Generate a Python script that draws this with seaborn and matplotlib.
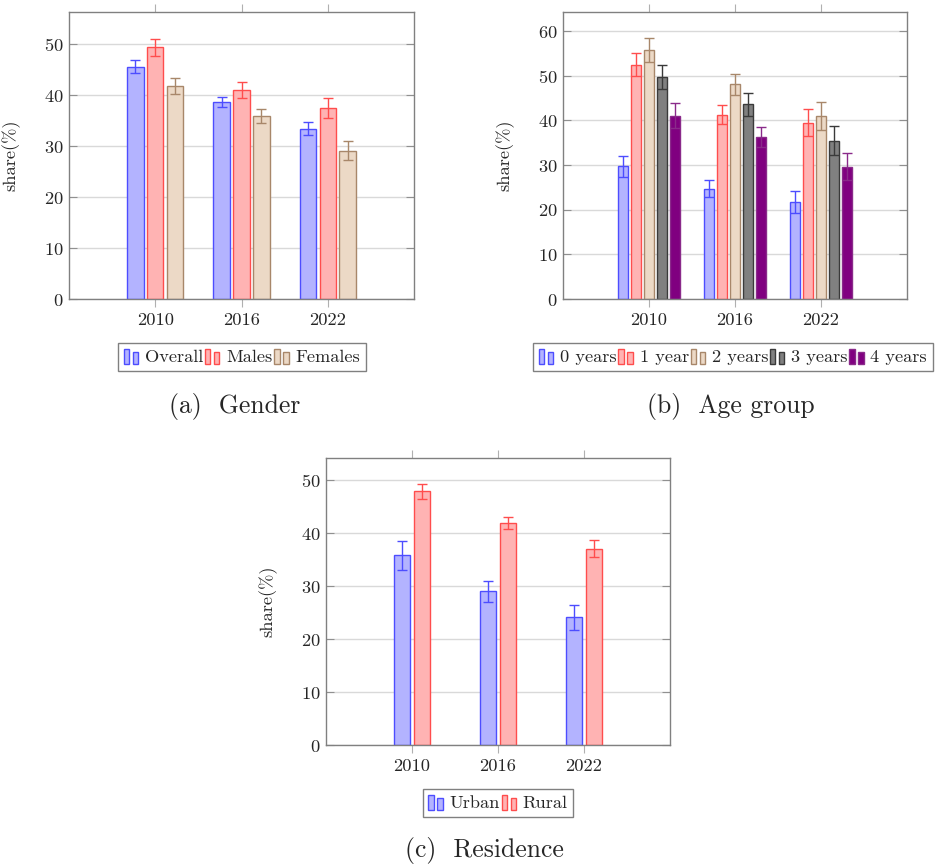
import numpy as np
import pandas as pd
import matplotlib
matplotlib.use('Agg')
import matplotlib.pyplot as plt
import seaborn as sns
from matplotlib.patches import Patch, Rectangle
from matplotlib.legend_handler import HandlerBase

sns.set_style('white')
plt.rcParams['font.family'] = ['cmr10', 'DejaVu Serif']
plt.rcParams['axes.formatter.use_mathtext'] = True
plt.rcParams['mathtext.fontset'] = 'cm'

years = ['2010', '2016', '2022']

# (a) gender
gender_groups = ['Overall', 'Males', 'Females']
gender_share = [[45.6, 38.6, 33.4], [49.4, 41.0, 37.5], [41.8, 35.9, 29.1]]
gender_err = [[1.2, 1.0, 1.3], [1.7, 1.5, 1.95], [1.65, 1.4, 1.8]]

# (b) age group
age_groups = ['0 years', '1 year', '2 years', '3 years', '4 years']
age_share = [[29.7, 24.7, 21.7], [52.5, 41.3, 39.5], [55.7, 48.1, 41.0],
             [49.7, 43.6, 35.5], [41.1, 36.3, 29.6]]
age_err = [[2.4, 1.9, 2.5], [2.6, 2.1, 3.0], [2.7, 2.4, 3.2],
           [2.7, 2.5, 3.2], [2.9, 2.3, 3.0]]

# (c) residence
res_groups = ['Urban', 'Rural']
res_share = [[35.8, 29.0, 24.1], [47.9, 41.9, 37.1]]
res_err = [[2.75, 2.0, 2.4], [1.4, 1.15, 1.65]]

# pgfplots-ish colours
fill_c = {'blue': '#b3b3ff', 'red': '#ffb3b3', 'brown': '#ecd9c6', 'gray': '#808080', 'violet': '#800080'}
edge_c = {'blue': '#4d4dff', 'red': '#ff4d4d', 'brown': '#a8876a', 'gray': '#3a3a3a', 'violet': '#8a2a8a'}


class TwoBars(HandlerBase):
    # legend entry like pgfplots ybar: two thin bars
    def create_artists(self, legend, orig, xd, yd, w, h, fontsize, trans):
        bw = w * 0.32
        arts = []
        for x0, hh in ((0.0, 1.0), (0.55, 0.78)):
            r = Rectangle((-xd + x0 * w, -yd), bw, h * hh,
                          facecolor=orig.get_facecolor(), edgecolor=orig.get_edgecolor(),
                          lw=1.0, transform=trans)
            arts.append(r)
        return arts


def draw_panel(ax, groups, share, err, keys, width, gap, ymax, yticks):
    rows = []
    for g, vals in zip(groups, share):
        for y, v in zip(years, vals):
            rows.append({'year': y, 'group': g, 'share': v})
    df = pd.DataFrame(rows)
    sns.barplot(data=df, x='year', y='share', hue='group', order=years, hue_order=groups,
                palette=[fill_c[k] for k in keys], width=width, gap=gap, saturation=1,
                errorbar=None, linewidth=1.0, legend=False, ax=ax)
    conts = list(ax.containers)
    for cont, k, er in zip(conts, keys, err):
        for b in cont:
            b.set_edgecolor(edge_c[k])
        xs = [b.get_x() + b.get_width() / 2 for b in cont]
        ys = [b.get_height() for b in cont]
        ax.errorbar(xs, ys, yerr=er, fmt='none', ecolor=edge_c[k], elinewidth=1.0,
                    capsize=3.5, capthick=1.0, zorder=5)
    ax.set_xlim(-1, 3)
    ax.set_ylim(0, ymax)
    ax.set_yticks(yticks)
    ax.set_xlabel('')
    ax.set_ylabel('share(%)', fontsize=13.3)
    ax.yaxis.set_label_coords(-0.14, 0.5)
    ax.grid(axis='y', color='#d9d9d9', linewidth=1.0)
    ax.set_axisbelow(True)
    for s in ax.spines.values():
        s.set_visible(True)
        s.set_color('#808080')
        s.set_linewidth(1.0)
    ax.tick_params(axis='x', direction='out', top=True, bottom=True, length=6,
                   color='#b0b0b0', labelsize=13.3, pad=4)
    ax.tick_params(axis='y', direction='in', left=True, right=True, length=6,
                   color='#909090', labelsize=13.3, pad=4)
    handles = [Patch(facecolor=fill_c[k], edgecolor=edge_c[k]) for k in keys]
    return handles


fig = plt.figure(figsize=(9.39, 8.68), dpi=100)
W, H = 939.0, 868.0


def add_ax(l, r, t, b):
    return fig.add_axes([l / W, 1 - b / H, (r - l) / W, (b - t) / H])


ax_a = add_ax(69, 414, 12, 299)
ax_b = add_ax(563, 907, 12, 299)
ax_c = add_ax(326, 670, 458, 745)

h_a = draw_panel(ax_a, gender_groups, gender_share, gender_err, ['blue', 'red', 'brown'],
                 0.69, 0.17, 56.3, [0, 10, 20, 30, 40, 50])
h_b = draw_panel(ax_b, age_groups, age_share, age_err, ['blue', 'red', 'brown', 'gray', 'violet'],
                 0.767, 0.24, 64.3, [0, 10, 20, 30, 40, 50, 60])
h_c = draw_panel(ax_c, res_groups, res_share, res_err, ['blue', 'red'],
                 0.46, 0.17, 54.2, [0, 10, 20, 30, 40, 50])

leg_kw = dict(loc='center', frameon=True, fancybox=False, framealpha=1, edgecolor='#808080',
              fontsize=13.2, handlelength=0.9, handleheight=0.9, handletextpad=0.25,
              columnspacing=0.1, borderpad=0.3, borderaxespad=0)
for hs, labels, (cx, cy) in ((h_a, gender_groups, (242, 357)),
                             (h_b, age_groups, (733, 357)),
                             (h_c, res_groups, (498, 803))):
    lg = fig.legend(hs, labels, ncol=len(labels), bbox_to_anchor=(cx / W, 1 - cy / H),
                    handler_map={Patch: TwoBars()}, **leg_kw)
    lg.get_frame().set_linewidth(1.0)

fig.text(235 / W, 1 - 407 / H, '(a)  Gender', ha='center', va='center', fontsize=18.5)
fig.text(731 / W, 1 - 407 / H, '(b)  Age group', ha='center', va='center', fontsize=18.5)
fig.text(484 / W, 1 - 850 / H, '(c)  Residence', ha='center', va='center', fontsize=18.5)

fig.savefig('out.png', dpi=100)
